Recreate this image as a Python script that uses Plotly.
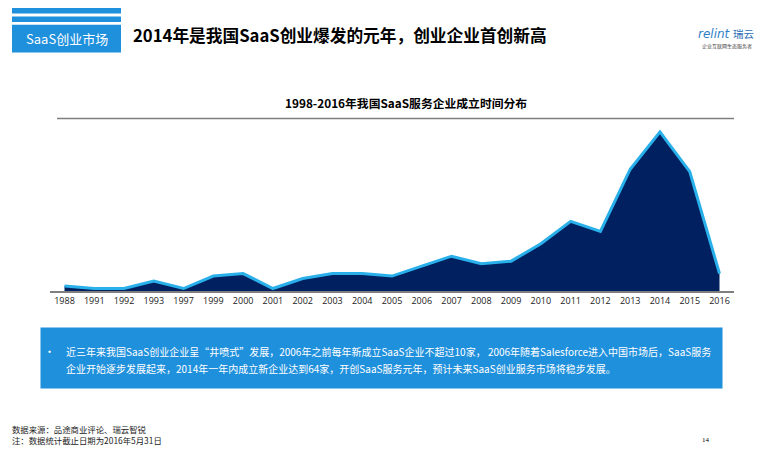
import plotly.graph_objects as go

W, H = 769, 453

years = ['1988', '1991', '1992', '1993', '1997', '1999', '2000', '2001', '2002', '2003', '2004', '2005',
         '2006', '2007', '2008', '2009', '2010', '2011', '2012', '2013', '2014', '2015', '2016']
companies = [2, 1, 1, 4, 1, 6, 7, 1, 5, 7, 7, 6, 10, 14, 11, 12, 19, 28, 24, 49, 64, 48, 7]

page_title = '2014年是我国SaaS创业爆发的元年，创业企业首创新高'
section_label = 'SaaS创业市场'
chart_title = '1998-2016年我国SaaS服务企业成立时间分布'
note_line1 = '近三年来我国SaaS创业企业呈“井喷式”发展，2006年之前每年新成立SaaS企业不超过10家， 2006年随着Salesforce进入中国市场后，SaaS服务'
note_line2 = '企业开始逐步发展起来，2014年一年内成立新企业达到64家，开创SaaS服务元年，预计未来SaaS创业服务市场将稳步发展。'
source_line1 = '数据来源：品途商业评论、瑞云智锐'
source_line2 = '注：数据统计截止日期为2016年5月31日'

BLUE = '#1f90dc'
CJK = 'Noto Sans CJK SC'


def px(x):
    return x / W


def py(y):
    return 1 - y / H


def rect(x0, y0, x1, y1, color):
    return dict(type='rect', xref='paper', yref='paper', x0=px(x0), x1=px(x1), y0=py(y0), y1=py(y1),
                fillcolor=color, line=dict(width=0), layer='below')


def label(x, y, text, size, color='#000000', anchor='left', family=CJK):
    return dict(xref='paper', yref='paper', x=px(x), y=py(y), text=text, showarrow=False,
                xanchor=anchor, yanchor='middle', font=dict(size=size, color=color, family=family))


fig = go.Figure()

fig.add_trace(go.Scatter(
    x=years,
    y=companies,
    mode='lines',
    fill='tozeroy',
    fillcolor='#002060',
    line=dict(color='#29b0ea', width=3),
    hoverinfo='x+y'
))

shapes = [
    rect(12, 8, 121, 13.5, BLUE),
    rect(12, 16.5, 121, 22, BLUE),
    rect(12, 24.7, 121, 52.5, BLUE),
    rect(40.5, 327.5, 722.5, 388.5, BLUE),
    dict(type='line', xref='paper', yref='paper', x0=px(57), x1=px(734), y0=py(118.5), y1=py(118.5),
         line=dict(color='#7f7f7f', width=1.5)),
]

# left-anchored x values sit 2px short: annotations add that much padding
annotations = [
    label(66.5, 38.5, section_label, 13, '#ffffff', 'center'),
    label(131, 35, '<b>' + page_title + '</b>', 16.7),
    label(406, 102, '<b>' + chart_title + '</b>', 11.8, anchor='center'),
    label(42, 351, '•', 11, '#ffffff'),
    label(64, 351, note_line1, 10, '#ffffff'),
    label(64, 368.5, note_line2, 10, '#ffffff'),
    label(10, 428.5, source_line1, 8.4, '#222222'),
    label(10, 439.5, source_line2, 8.4, '#222222'),
    label(706, 440, '14', 7, '#000000', 'center', 'Liberation Serif'),
    label(733, 34, '<i>relint</i>', 12, '#2f7fc8', 'right', 'DejaVu Sans'),
    label(731, 34, '瑞云', 10.5, '#2f6fb5'),
    label(727, 46, '企业互联网生态服务者', 5, '#444444', 'center'),
]

fig.update_layout(
    width=W,
    height=H,
    margin=dict(l=0, r=0, t=0, b=0),
    paper_bgcolor='#ffffff',
    plot_bgcolor='#ffffff',
    showlegend=False,
    shapes=shapes,
    annotations=annotations,
    xaxis=dict(
        type='category',
        domain=[px(49.6), px(734.4)],
        range=[-0.5, 22.5],
        showgrid=False,
        zeroline=False,
        showline=True,
        linecolor='#7f7f7f',
        linewidth=1.5,
        ticks='',
        tickfont=dict(size=9, color='#222222', family='Open Sans'),
        tickangle=0
    ),
    yaxis=dict(
        domain=[py(291), py(120)],
        range=[0, 68.8],
        visible=False
    )
)

# drop the default page margin so the figure sits at the window's corner
fig.write_html("out.html", config=dict(displayModeBar=False), post_script="document.body.style.margin='0';")
